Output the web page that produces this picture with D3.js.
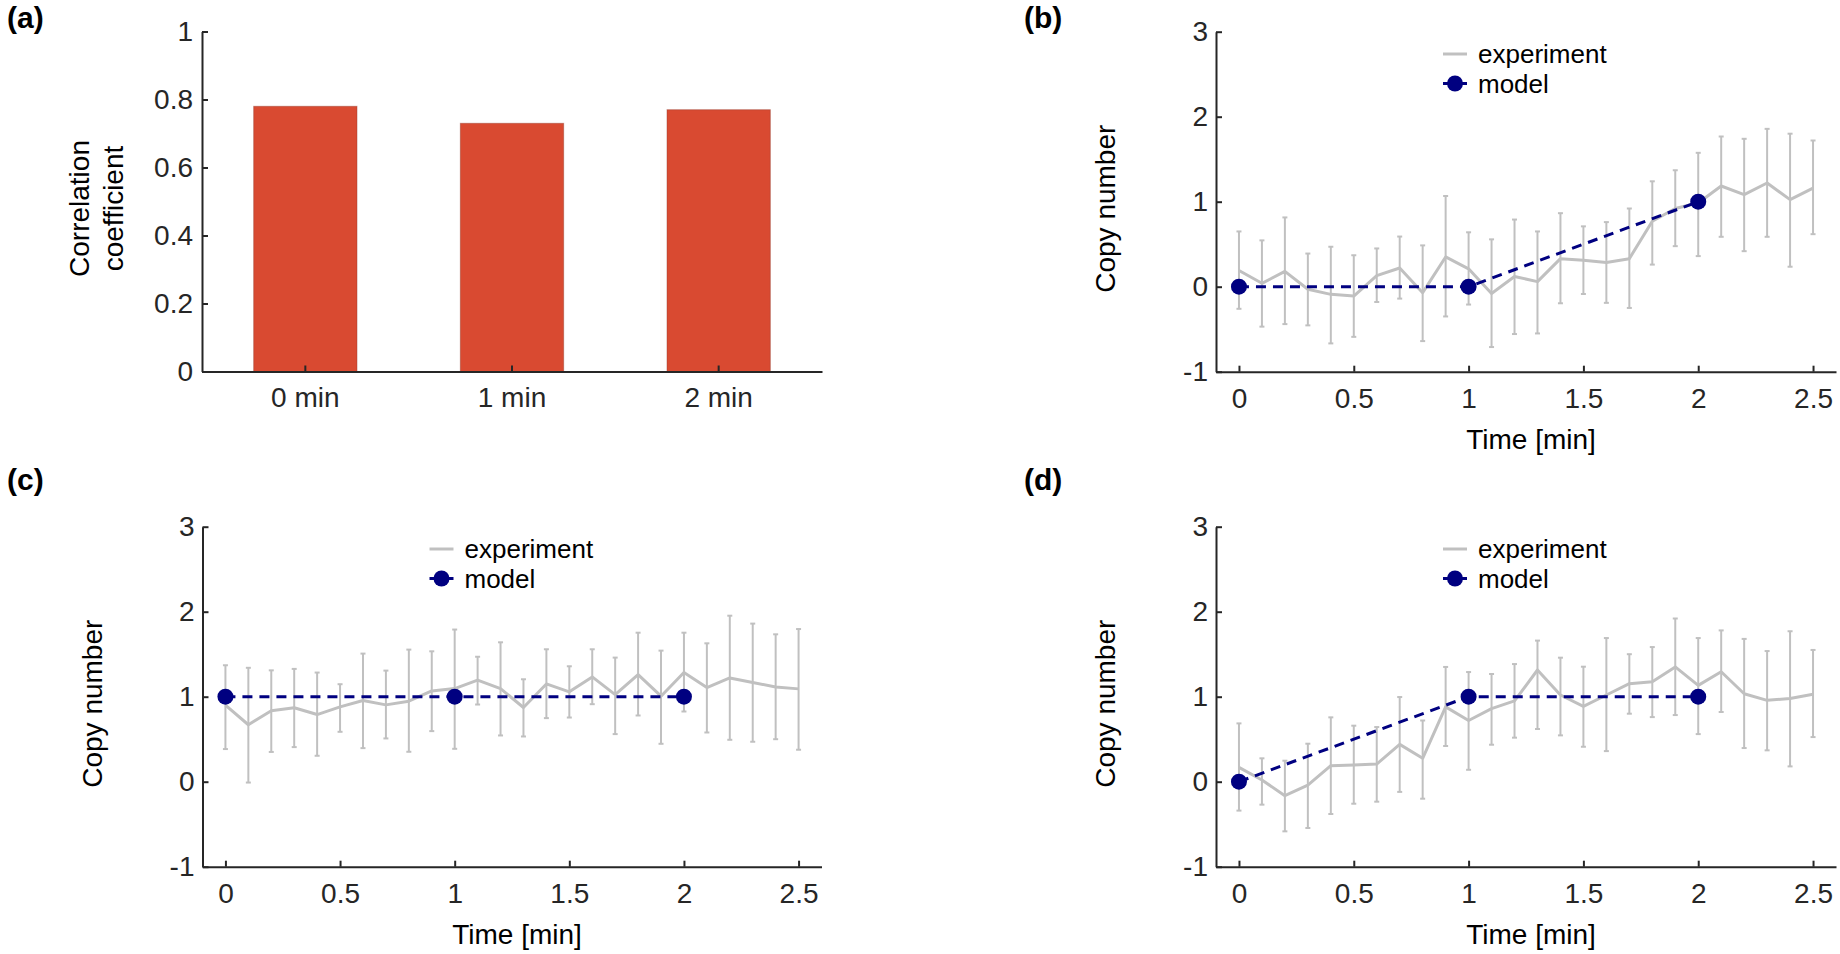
<!DOCTYPE html>
<html><head><meta charset="utf-8">
<script src="https://cdn.jsdelivr.net/npm/d3@7"></script>
<style>
html,body{margin:0;padding:0;background:#fff;}
svg{display:block;}
text{font-family:"Liberation Sans",Arial,Helvetica,sans-serif;}
</style></head><body>
<svg id="chart" width="1840" height="954"></svg>
<script>
// ---------- data ----------
const barCategories = ["0 min", "1 min", "2 min"];
const barValues = [0.78, 0.73, 0.77];
const corrTicks = [0, 0.2, 0.4, 0.6, 0.8, 1];
const corrTickLabels = ["0", "0.2", "0.4", "0.6", "0.8", "1"];

const timeTicks = [0, 0.5, 1, 1.5, 2, 2.5];
const timeTickLabels = ["0", "0.5", "1", "1.5", "2", "2.5"];
const copyTicks = [-1, 0, 1, 2, 3];
const copyTickLabels = ["-1", "0", "1", "2", "3"];

const expTimes = [0, 0.1, 0.2, 0.3, 0.4, 0.5, 0.6, 0.7, 0.8, 0.9, 1.0, 1.1, 1.2,
                  1.3, 1.4, 1.5, 1.6, 1.7, 1.8, 1.9, 2.0, 2.1, 2.2, 2.3, 2.4, 2.5];

const expMeanB  = [0.19, 0.04, 0.18, -0.03, -0.09, -0.11, 0.13, 0.22, -0.07, 0.35, 0.21, -0.08, 0.12,
                   0.06, 0.33, 0.31, 0.285, 0.33, 0.77, 0.92, 0.985, 1.185, 1.083, 1.22, 1.024, 1.16];
const expUpperB = [0.65, 0.545, 0.815, 0.39, 0.47, 0.37, 0.45, 0.59, 0.486, 1.067, 0.64, 0.557, 0.79,
                   0.65, 0.865, 0.71, 0.76, 0.92, 1.24, 1.37, 1.575, 1.767, 1.74, 1.857, 1.80, 1.72];
const expLowerB = [-0.26, -0.47, -0.44, -0.455, -0.667, -0.59, -0.18, -0.14, -0.64, -0.35, -0.21, -0.71, -0.557,
                   -0.55, -0.195, -0.086, -0.19, -0.25, 0.26, 0.477, 0.36, 0.587, 0.418, 0.587, 0.235, 0.618];

const expMeanC  = [0.9, 0.67, 0.834, 0.87, 0.79, 0.88, 0.955, 0.904, 0.947, 1.068, 1.096, 1.194, 1.096,
                   0.873, 1.15, 1.057, 1.233, 1.025, 1.26, 1.006, 1.284, 1.108, 1.221, 1.166, 1.115, 1.092];
const expUpperC = [1.37, 1.34, 1.31, 1.327, 1.284, 1.147, 1.507, 1.307, 1.554, 1.534, 1.79, 1.47, 1.64,
                   1.205, 1.558, 1.358, 1.558, 1.46, 1.753, 1.542, 1.753, 1.628, 1.953, 1.86, 1.734, 1.796];
const expLowerC = [0.384, -0.01, 0.35, 0.407, 0.305, 0.587, 0.395, 0.509, 0.352, 0.595, 0.387, 0.908, 0.544,
                   0.532, 0.748, 0.755, 0.912, 0.56, 0.779, 0.446, 0.826, 0.579, 0.493, 0.47, 0.5, 0.376];

const expMeanD  = [0.169, 0.02, -0.165, -0.04, 0.188, 0.196, 0.208, 0.439, 0.275, 0.88, 0.72, 0.86, 0.95,
                   1.314, 1.02, 0.886, 1.02, 1.153, 1.176, 1.35, 1.133, 1.294, 1.035, 0.957, 0.98, 1.03];
const expUpperD = [0.686, 0.275, 0.247, 0.447, 0.757, 0.659, 0.643, 0.996, 0.72, 1.35, 1.29, 1.267, 1.384,
                   1.66, 1.459, 1.353, 1.69, 1.5, 1.584, 1.92, 1.69, 1.78, 1.68, 1.537, 1.77, 1.55];
const expLowerD = [-0.34, -0.27, -0.584, -0.545, -0.38, -0.259, -0.235, -0.12, -0.2, 0.42, 0.14, 0.435, 0.518,
                   0.62, 0.545, 0.411, 0.36, 0.8, 0.76, 0.784, 0.56, 0.82, 0.396, 0.369, 0.18, 0.525];

const modelTimes = [0, 1, 2];
const modelB = [0, 0, 1];
const modelC = [1, 1, 1];
const modelD = [0, 1, 1];

const legendLabels = ["experiment", "model"];

// ---------- styles ----------
const AXIS = "#262626";
const GREY = "#c0c0c0";
const NAVY = "#000080";
const BAR = "#D94A31";
const FONT = '"Liberation Sans", Arial, Helvetica, sans-serif';

const svg = d3.select("#chart");

function styleAxis(g) {
  g.attr("font-family", FONT).attr("font-size", 28);
  g.select(".domain").attr("stroke", AXIS).attr("stroke-width", 2);
  g.selectAll(".tick line").attr("stroke", AXIS).attr("stroke-width", 2);
  g.selectAll(".tick text").attr("fill", AXIS);
}

function panelLabel(txt, x, y) {
  svg.append("text").attr("x", x).attr("y", y)
    .attr("font-size", 30).attr("font-weight", "bold").attr("fill", "#000")
    .text(txt);
}

// ---------- panel (a) ----------
(function () {
  const x0 = 202, x1 = 822, yTop = 31.5, yBot = 371.5;
  const x = d3.scaleBand().domain(barCategories).range([x0, x1])
    .paddingInner(0.5).paddingOuter(0.25);
  const y = d3.scaleLinear().domain([0, 1]).range([yBot, yTop]);
  const g = svg.append("g");
  g.selectAll("rect").data(barValues).enter().append("rect")
    .attr("x", (d, i) => x(barCategories[i]))
    .attr("width", x.bandwidth())
    .attr("y", d => y(d))
    .attr("height", d => y(0) - y(d))
    .attr("fill", BAR)
    .attr("stroke", "rgba(150,60,45,0.45)").attr("stroke-width", 1);

  const ax = g.append("g").attr("transform", `translate(0,${yBot})`)
    .call(d3.axisBottom(x).tickSize(-6).tickSizeOuter(0).tickPadding(16));
  styleAxis(ax);
  const ay = g.append("g").attr("transform", `translate(${x0},0)`)
    .call(d3.axisLeft(y).tickValues(corrTicks)
      .tickFormat((d, i) => corrTickLabels[i]).tickSize(-6).tickSizeOuter(0).tickPadding(9));
  styleAxis(ay);

  const cy = (yTop + yBot) / 2 + 7;
  [["Correlation", x0 - 113], ["coefficient", x0 - 79]].forEach(([t, bx]) => {
    g.append("text").attr("transform", `translate(${bx},${cy}) rotate(-90)`)
      .attr("text-anchor", "middle").attr("font-size", 28).attr("fill", "#000").text(t);
  });
  panelLabel("(a)", 7, 28);
})();

// ---------- time panels ----------
function timePanel(o) {
  const x = d3.scaleLinear().domain([-0.1, 2.6]).range([o.x0, o.x1]);
  const y = d3.scaleLinear().domain([-1, 3]).range([o.yBot, o.yTop]);
  const g = svg.append("g");

  // error bars
  const eb = g.append("g").attr("stroke", GREY).attr("stroke-width", 2).attr("fill", "none");
  expTimes.forEach((t, i) => {
    const xx = x(t);
    eb.append("line").attr("x1", xx).attr("x2", xx).attr("y1", y(o.lower[i])).attr("y2", y(o.upper[i]));
    eb.append("line").attr("x1", xx - 2.5).attr("x2", xx + 2.5).attr("y1", y(o.lower[i])).attr("y2", y(o.lower[i]));
    eb.append("line").attr("x1", xx - 2.5).attr("x2", xx + 2.5).attr("y1", y(o.upper[i])).attr("y2", y(o.upper[i]));
  });
  // mean line
  const line = d3.line().x((d, i) => x(expTimes[i])).y(d => y(d));
  g.append("path").datum(o.mean).attr("d", line)
    .attr("fill", "none").attr("stroke", GREY).attr("stroke-width", 3).attr("stroke-linejoin", "round");

  // model
  const mline = d3.line().x((d, i) => x(modelTimes[i])).y(d => y(d));
  g.append("path").datum(o.model).attr("d", mline)
    .attr("fill", "none").attr("stroke", NAVY).attr("stroke-width", 3).attr("stroke-dasharray", "10,7");
  g.selectAll("circle.m").data(o.model).enter().append("circle")
    .attr("cx", (d, i) => x(modelTimes[i])).attr("cy", d => y(d)).attr("r", 8).attr("fill", NAVY);

  // axes
  const ax = g.append("g").attr("transform", `translate(0,${o.yBot})`)
    .call(d3.axisBottom(x).tickValues(timeTicks).tickFormat((d, i) => timeTickLabels[i])
      .tickSize(-6).tickSizeOuter(0).tickPadding(16));
  styleAxis(ax);
  const ay = g.append("g").attr("transform", `translate(${o.x0},0)`)
    .call(d3.axisLeft(y).tickValues(copyTicks).tickFormat((d, i) => copyTickLabels[i])
      .tickSize(-6).tickSizeOuter(0).tickPadding(8));
  styleAxis(ay);

  // labels
  g.append("text").attr("x", (o.x0 + o.x1) / 2 + 5).attr("y", o.yBot + 77)
    .attr("text-anchor", "middle").attr("font-size", 28).attr("fill", "#000").text("Time [min]");
  g.append("text").attr("transform", `translate(${o.x0 - 101},${(o.yTop + o.yBot) / 2 + 7}) rotate(-90)`)
    .attr("text-anchor", "middle").attr("font-size", 28).attr("fill", "#000").text("Copy number");

  // legend
  const lg = g.append("g");
  const lx = o.x0 + 227, ly1 = o.yTop + 22.3, ly2 = o.yTop + 51.8;
  lg.append("line").attr("x1", lx).attr("x2", lx + 24).attr("y1", ly1).attr("y2", ly1)
    .attr("stroke", GREY).attr("stroke-width", 3);
  lg.append("text").attr("x", lx + 35).attr("y", ly1 + 9.3).attr("font-size", 26).attr("fill", "#000").text(legendLabels[0]);
  lg.append("line").attr("x1", lx).attr("x2", lx + 24).attr("y1", ly2).attr("y2", ly2)
    .attr("stroke", NAVY).attr("stroke-width", 3);
  lg.append("circle").attr("cx", lx + 12).attr("cy", ly2).attr("r", 8).attr("fill", NAVY);
  lg.append("text").attr("x", lx + 35).attr("y", ly2 + 9.8).attr("font-size", 26).attr("fill", "#000").text(legendLabels[1]);

  panelLabel(o.label, o.lx, o.ly);
}

timePanel({ x0: 1216, x1: 1836, yTop: 31.7, yBot: 371.7, mean: expMeanB, upper: expUpperB, lower: expLowerB,
            model: modelB, label: "(b)", lx: 1024, ly: 28 });
timePanel({ x0: 202.5, x1: 821.5, yTop: 526.7, yBot: 866.7, mean: expMeanC, upper: expUpperC, lower: expLowerC,
            model: modelC, label: "(c)", lx: 7, ly: 490 });
timePanel({ x0: 1216, x1: 1836, yTop: 526.7, yBot: 866.7, mean: expMeanD, upper: expUpperD, lower: expLowerD,
            model: modelD, label: "(d)", lx: 1024, ly: 490 });
</script>
</body></html>
